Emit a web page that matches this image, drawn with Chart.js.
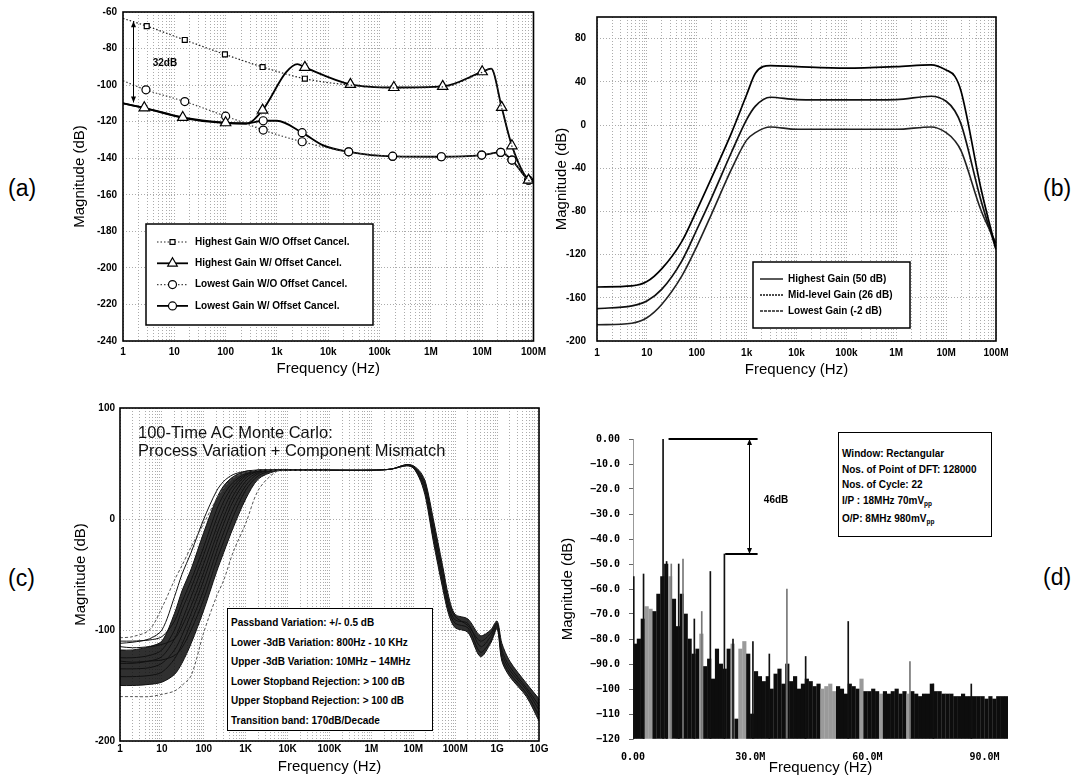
<!DOCTYPE html>
<html>
<head>
<meta charset="utf-8">
<script src="https://cdn.jsdelivr.net/npm/chart.js@4.4.1/dist/chart.umd.min.js"></script>
<style>
body { margin: 0; background: #fff; width: 1079px; height: 779px; position: relative; overflow: hidden;
       font-family: "Liberation Sans", Arial, sans-serif; color: #000; }
canvas { position: absolute; }
.lbl { position: absolute; font-size: 23px; }
.box { position: absolute; box-sizing: border-box; border: 1.5px solid #000; background: #fff;
       font-weight: bold; font-size: 10px; white-space: nowrap; color: #000; }
.box sub { font-size: 6.5px; vertical-align: -2px; color: #000; }
.mc { position: absolute; font-size: 16.5px; line-height: 18px; color: #111; white-space: nowrap; }
</style>
</head>
<body>
<canvas id="ca" width="491" height="385" style="left:60px;top:0px"></canvas>
<canvas id="cb" width="475" height="385" style="left:540px;top:0px"></canvas>
<canvas id="cc" width="495" height="389" style="left:60px;top:390px"></canvas>
<canvas id="cd" width="490" height="379" style="left:540px;top:400px"></canvas>

<div class="lbl" style="left:8px;top:175px">(a)</div>
<div class="lbl" style="left:1043px;top:175px">(b)</div>
<div class="lbl" style="left:8px;top:565px">(c)</div>
<div class="lbl" style="left:1043px;top:564px">(d)</div>

<div class="mc" style="left:138px;top:423px">100-Time AC Monte Carlo:<br>Process Variation + Component Mismatch</div>
<div class="box" style="left:227px;top:608px;width:206px;height:123px;padding:4px 0 0 3px;line-height:19.6px">
Passband Variation: +/- 0.5 dB<br>
Lower -3dB Variation: 800Hz - 10 KHz<br>
Upper -3dB Variation: 10MHz – 14MHz<br>
Lower Stopband Rejection: &gt; 100 dB<br>
Upper Stopband Rejection: &gt; 100 dB<br>
Transition band: 170dB/Decade
</div>
<div class="box" style="left:838px;top:432px;width:154px;height:105px;padding:13px 0 0 3px;line-height:15.6px">
Window: Rectangular<br>
Nos. of Point of DFT: 128000<br>
Nos. of Cycle: 22<br>
I/P : 18MHz 70mV<sub>pp</sub><br>
O/P: 8MHz 980mV<sub>pp</sub>
</div>

<script>
// (a) offset cancellation
var aFreqLabels = ['1', '10', '100', '1k', '10k', '100k', '1M', '10M', '100M'];
var aHiWoF = [1, 2.9, 16, 97, 525, 3500, 27e3, 190e3, 1.7e6, 10e6, 15e6, 24e6, 38e6, 80e6, 1e8];
var aHiWoY = [-63.5, -67.7, -75.3, -83.2, -90.1, -96.5, -100, -101.5, -101, -93, -91, -112.5, -133.5, -152, -153];
var aHiWF = [1, 2.6, 14.6, 100, 250, 525, 1500, 2500, 3500, 27e3, 190e3, 1.7e6, 10e6, 15e6, 24e6, 38e6, 80e6, 1e8];
var aHiWY = [-110, -112.4, -117.7, -120.6, -121, -113.7, -93, -88.5, -90.3, -99.6, -101.3, -100.7, -92.7, -91, -112.2, -133.2, -152, -153];
var aLoWoF = [1, 2.8, 16, 100, 200, 540, 3100, 25e3, 180e3, 1.6e6, 9.8e6, 23e6, 38e6, 80e6, 1e8];
var aLoWoY = [-97.6, -102.6, -109, -117, -120, -124.6, -131, -136.5, -138.9, -139.2, -138.3, -136.8, -141, -152, -153];
var aLoWF = [1, 3, 15, 100, 250, 540, 1000, 3100, 8000, 25e3, 180e3, 1.6e6, 9.8e6, 23e6, 38e6, 80e6, 1e8];
var aLoWY = [-110, -113, -118, -120.8, -121, -119.5, -119.5, -126, -133, -136.5, -139, -139.2, -138.3, -136.8, -141, -152, -153];

// (b) three gain settings
var bFreq = [1, 5, 10, 20, 50, 100, 200, 500, 1000, 1500, 3000, 10e3, 100e3, 1e6, 5e6, 10e6, 15e6, 20e6, 50e6, 1e8];
var bHigh = [-150, -149, -145, -133, -108, -79, -48.5, -7, 28, 48, 55, 54, 52.6, 54, 55.7, 51, 45, 31, -59, -115];
var bMid = [-170, -167.5, -163, -152, -126, -97, -67, -25, 5, 17.5, 25.7, 23.5, 23.2, 23.5, 26.6, 22, 13, 0.6, -70, -115];
var bLow = [-185, -183.5, -178.5, -166, -140, -112.6, -82, -40.7, -14, -7, -1.8, -4, -4, -4, -1.8, -7, -14.7, -24, -79, -109.5];

// (c) monte carlo runs, low side and high side
var cFreqLabels = ['1', '10', '100', '1K', '10K', '100K', '1M', '10M', '100M', '1G', '10G'];
var cLoF = [1, 2, 5, 10, 20, 30, 50, 100, 200, 300, 500, 1000, 2000, 5000, 10000, 100000];
var cLo = [
  [-107, -106, -100, -80, -55, -42, -25, -4, 18, 28, 37, 42, 44, 44, 44, 44],
  [-112, -111, -108, -100, -70, -50, -30, 0, 25, 34, 40, 43, 44, 44, 44, 44],
  [-118, -118, -115, -110, -85, -65, -45, -12, 18, 30, 38, 43, 44, 44, 44, 44],
  [-110, -110, -109, -106, -92, -75, -55, -25, 8, 22, 33, 41, 44, 44, 44, 44],
  [-125, -125, -123, -118, -100, -82, -62, -32, 0, 16, 30, 40, 44, 44, 44, 44],
  [-130, -130, -128, -124, -108, -92, -70, -40, -8, 9, 26, 39, 43, 44, 44, 44],
  [-115, -116, -115, -113, -108, -97, -78, -48, -15, 2, 21, 37, 43, 44, 44, 44],
  [-135, -135, -134, -130, -118, -105, -85, -55, -22, -4, 16, 34, 42, 44, 44, 44],
  [-142, -142, -141, -138, -126, -113, -93, -64, -30, -12, 9, 30, 41, 44, 44, 44],
  [-128, -129, -128, -127, -123, -116, -100, -72, -38, -20, 2, 26, 39, 44, 44, 44],
  [-150, -150, -149, -147, -140, -130, -112, -82, -48, -30, -8, 18, 36, 43, 44, 44],
  [-160, -160, -160, -158, -155, -150, -141, -102, -70, -55, -30, -4, 26, 42, 44, 44]
];
var cHiF = [1e5, 1e6, 3e6, 7e6, 1e7, 1.5e7, 2e7, 3e7, 5e7, 7e7, 1e8, 2e8, 4e8, 7e8, 1e9, 1.3e9, 2e9, 5e9, 1e10];
var cHi = [
  [44, 44, 45, 49, 47, 38, 26, -10, -52, -79, -91, -94, -115, -106, -95, -121, -136, -154, -172],
  [44, 44, 45, 49, 48, 42, 32, 0, -42, -70, -86, -90, -105, -100, -92, -112, -128, -148, -162],
  [44, 44, 45, 48, 46, 34, 18, -20, -62, -86, -98, -102, -124, -112, -99, -128, -142, -160, -182],
  [44, 44, 45, 49, 47, 40, 29, -5, -47, -75, -88, -96, -110, -103, -94, -118, -133, -152, -168],
  [44, 44, 45, 48, 46, 36, 22, -15, -57, -82, -94, -98, -120, -110, -97, -125, -139, -157, -177]
];

// (d) output spectrum, MHz / dB
var dXLabels = ['0.00', '30.0M', '60.0M', '90.0M'];
var dFloorF = [0.5, 1.5, 2.5, 3.5, 4.5, 5.5, 6.5, 7.5, 8.5, 9.5, 10.5, 11.5, 12.5, 13.5, 14.5, 15.5, 16.5, 17.5, 18.5, 19.5,
  20.5, 21.5, 22.5, 23.5, 24.5, 25.5, 26.5, 27.5, 28.5, 29.5, 30.5, 31.5, 32.5, 33.5, 34.5, 35.5, 36.5, 37.5, 38.5, 39.5,
  40.5, 41.5, 42.5, 43.5, 44.5, 45.5, 46.5, 47.5, 48.5, 49.5, 50.5, 51.5, 52.5, 53.5, 54.5, 55.5, 56.5, 57.5, 58.5, 59.5,
  60.5, 61.5, 62.5, 63.5, 64.5, 65.5, 66.5, 67.5, 68.5, 69.5, 70.5, 71.5, 72.5, 73.5, 74.5, 75.5, 76.5, 77.5, 78.5, 79.5,
  80.5, 81.5, 82.5, 83.5, 84.5, 85.5, 86.5, 87.5, 88.5, 89.5, 90.5, 91.5, 92.5, 93.5, 94.5, 95.5];
var dFloorY = [-82, -80, -72, -67, -68, -69, -62, -55, -50, -55, -64, -75, -62, -70, -80, -86, -84, -78, -91, -88,
  -96, -84, -90, -92, -84, -82, -112, -84, -81, -86, -110, -93, -95, -97, -95, -100, -94, -92, -98, -90,
  -97, -95, -100, -98, -96, -97, -99, -98, -100, -99, -98, -101, -99, -100, -102, -98, -99, -100, -96, -101,
  -101, -100, -101, -102, -101, -102, -101, -100, -102, -101, -102, -101, -102, -103, -102, -102, -98, -101, -101, -102,
  -102, -102, -103, -103, -102, -103, -103, -103, -103, -103, -104, -103, -104, -103, -103, -103];
var dSpikeF = [0.2, 2.7, 7.7, 8.6, 9.8, 11.7, 12.8, 15.7, 17.6, 19.8, 23.4, 25.6, 30.7, 34.9, 39.4, 44.2, 55.1, 70.9, 76.9, 86.6];
var dSpikeY = [-55, -54, 0, -49, -50, -50, -48, -72, -69, -53, -46, -80, -81, -86, -60, -87, -73, -89, -98, -98];

var tickFont = { size: 10, weight: 'bold' };
var titleFont = { size: 15 };
var monoFont = { family: '"DejaVu Sans Mono", monospace', size: 10, weight: 'bold' };

function pts(F, Y) {
  return F.map(function (f, i) { return { x: f, y: Y[i] }; });
}

function decadeTicks(maxExp) {
  var t = [];
  for (var e = 0; e < maxExp; e++)
    for (var m = 1; m < 10; m++) t.push({ value: m * Math.pow(10, e) });
  t.push({ value: Math.pow(10, maxExp) });
  return t;
}

function logX(maxExp, labels, h, tickPad, titlePad) {
  return {
    type: 'logarithmic', min: 1, max: Math.pow(10, maxExp),
    afterBuildTicks: function (s) { s.ticks = decadeTicks(maxExp); },
    afterFit: function (s) { s.height = h; },
    ticks: {
      autoSkip: false, maxRotation: 0, padding: tickPad, color: '#000', font: tickFont,
      callback: function (v) {
        var e = Math.round(Math.log10(v));
        return Math.abs(v - Math.pow(10, e)) < v * 1e-9 ? labels[e] : '';
      }
    },
    grid: { color: '#ababab', drawTicks: false },
    border: { display: false, dash: [1, 2] },
    title: { display: true, text: 'Frequency (Hz)', color: '#000', font: titleFont, padding: { top: 0, bottom: titlePad } }
  };
}

function magY(min, max, step, w, tickPad, titlePad) {
  return {
    min: min, max: max,
    afterFit: function (s) { s.width = w; },
    ticks: { stepSize: step, includeBounds: false, autoSkip: false, padding: tickPad, color: '#000', font: tickFont },
    grid: { color: '#ababab', drawTicks: false },
    border: { display: false, dash: [1, 2] },
    title: { display: true, text: 'Magnitude (dB)', color: '#000', font: titleFont, padding: { top: titlePad, bottom: 0 } }
  };
}

function vArrow(ctx, x, y1, y2) {
  ctx.beginPath(); ctx.moveTo(x, y1); ctx.lineTo(x, y2); ctx.stroke();
  [[y1, 1], [y2, -1]].forEach(function (p) {
    ctx.beginPath();
    ctx.moveTo(x, p[0]);
    ctx.lineTo(x - 2.5, p[0] + 6 * p[1]);
    ctx.lineTo(x + 2.5, p[0] + 6 * p[1]);
    ctx.closePath(); ctx.fill();
  });
}

var framePlugin = {
  id: 'frame',
  afterDraw: function (chart, args, o) {
    if (!o.show) return;
    var a = chart.chartArea, ctx = chart.ctx;
    ctx.save();
    ctx.strokeStyle = '#000'; ctx.lineWidth = 1.6;
    ctx.strokeRect(a.left, a.top, a.right - a.left, a.bottom - a.top);
    ctx.restore();
  }
};

// legend box drawn inside the plot, samples taken from the dataset styles
var boxLegend = {
  id: 'boxLegend',
  afterDraw: function (chart, args, o) {
    if (!o.rows) return;
    var ctx = chart.ctx, a = chart.chartArea;
    var x = a.left + o.x, y = a.top + o.y;
    ctx.save();
    ctx.fillStyle = '#fff'; ctx.fillRect(x, y, o.w, o.h);
    ctx.lineWidth = 1.5; ctx.strokeStyle = '#000'; ctx.strokeRect(x, y, o.w, o.h);
    ctx.font = 'bold 10px "Liberation Sans", Arial, sans-serif';
    ctx.textBaseline = 'middle';
    o.rows.forEach(function (di, k) {
      var ds = chart.data.datasets[di];
      var ry = y + o.first + k * o.step;
      ctx.save();
      ctx.strokeStyle = ds.borderColor; ctx.lineWidth = ds.legendWidth || ds.borderWidth;
      ctx.setLineDash(ds.legendDash || ds.borderDash || []);
      ctx.beginPath(); ctx.moveTo(x + o.l0, ry); ctx.lineTo(x + o.l1, ry); ctx.stroke();
      ctx.restore();
      if (ds.legendRadius && Chart.helpers && Chart.helpers.drawPoint) {
        ctx.save();
        ctx.fillStyle = '#fff'; ctx.strokeStyle = '#000'; ctx.lineWidth = 1.2; ctx.setLineDash([]);
        Chart.helpers.drawPoint(ctx, { pointStyle: ds.pointStyle, radius: ds.legendRadius, borderWidth: 1.2, rotation: 0 },
          x + (o.l0 + o.l1) / 2, ry);
        ctx.restore();
      }
      ctx.fillStyle = '#000';
      ctx.fillText(ds.label, x + o.tx, ry);
    });
    ctx.restore();
  }
};

Chart.register(framePlugin, boxLegend);
Chart.defaults.font.family = '"Liberation Sans", Arial, sans-serif';
Chart.defaults.color = '#000';
Chart.defaults.animation = false;
Chart.defaults.events = [];
Chart.defaults.plugins.legend.display = false;
Chart.defaults.plugins.tooltip.enabled = false;
Chart.defaults.plugins.colors = { enabled: false };

function markR(r) {
  return function (c) { return c.raw && c.dataset.noMark.indexOf(c.raw.x) >= 0 ? 0 : r; };
}

// ---------- (a)
new Chart(document.getElementById('ca'), {
  type: 'line',
  data: {
    datasets: [
      { label: 'Highest Gain W/O Offset Cancel.', data: pts(aHiWoF, aHiWoY), borderColor: '#222', borderWidth: 1.2,
        borderDash: [1.5, 2], pointStyle: 'rect', legendRadius: 3.5,
        pointRadius: function (c) { return c.raw && (c.raw.x > 5000 || c.raw.x === 1) ? 0 : 3.5; } },
      { label: 'Highest Gain W/ Offset Cancel.', data: pts(aHiWF, aHiWY), borderColor: '#000', borderWidth: 1.8,
        pointStyle: 'triangle', legendRadius: 5.5, noMark: [1, 250, 1500, 2500, 15e6, 1e8], pointRadius: markR(6) },
      { label: 'Lowest Gain W/O Offset Cancel.', data: pts(aLoWoF, aLoWoY), borderColor: '#444', borderWidth: 1.2,
        borderDash: [1.5, 2], pointStyle: 'circle', legendRadius: 4, noMark: [1, 200, 1e8], pointRadius: markR(4) },
      { label: 'Lowest Gain W/ Offset Cancel.', data: pts(aLoWF, aLoWY), borderColor: '#000', borderWidth: 1.8,
        pointStyle: 'circle', legendRadius: 4, noMark: [1, 3, 15, 100, 250, 1000, 8000, 1e8], pointRadius: markR(4) }
    ]
  },
  options: {
    responsive: false,
    layout: { padding: { top: 12, right: 16, left: 0, bottom: 0 } },
    elements: {
      line: { cubicInterpolationMode: 'monotone' },
      point: { backgroundColor: '#fff', borderColor: '#000', borderWidth: 1.2 }
    },
    datasets: { line: { pointBackgroundColor: '#fff', pointBorderColor: '#000', pointBorderWidth: 1.2 } },
    scales: { x: logX(8, aFreqLabels, 44, 5, 7), y: magY(-240, -60, 20, 63, 6, 11) },
    plugins: {
      frame: { show: true },
      boxLegend: { rows: [0, 1, 2, 3], x: 23, y: 212, w: 227, h: 101, first: 18, step: 21.3, l0: 11, l1: 42, tx: 49 }
    }
  },
  plugins: [{
    id: 'aNotes',
    afterDatasetsDraw: function (chart) {
      var x = chart.scales.x, y = chart.scales.y, ctx = chart.ctx;
      ctx.save();
      ctx.strokeStyle = '#000'; ctx.fillStyle = '#000'; ctx.lineWidth = 1;
      vArrow(ctx, Math.round(x.getPixelForValue(1.56)) + 0.5, y.getPixelForValue(-65), y.getPixelForValue(-109.5));
      ctx.font = 'bold 10px "Liberation Sans", Arial, sans-serif';
      ctx.textBaseline = 'middle';
      ctx.fillText('32dB', x.getPixelForValue(3.8), y.getPixelForValue(-88));
      ctx.restore();
    }
  }]
});

// ---------- (b)
new Chart(document.getElementById('cb'), {
  type: 'line',
  data: {
    datasets: [
      { label: 'Highest Gain (50 dB)', data: pts(bFreq, bHigh), borderColor: '#000', borderWidth: 1.7, legendWidth: 1.3 },
      { label: 'Mid-level Gain (26 dB)', data: pts(bFreq, bMid), borderColor: '#111', borderWidth: 1.7,
        legendWidth: 1.3, legendDash: [2, 1] },
      { label: 'Lowest Gain (-2 dB)', data: pts(bFreq, bLow), borderColor: '#222', borderWidth: 1.6,
        legendWidth: 1.3, legendDash: [3, 1] }
    ]
  },
  options: {
    responsive: false,
    layout: { padding: { top: 11, right: 19, left: 0, bottom: 0 } },
    elements: { line: { cubicInterpolationMode: 'monotone' }, point: { radius: 0 } },
    scales: { x: logX(8, aFreqLabels, 44, 6, 6), y: magY(-200, 100, 40, 57, 11, 13) },
    plugins: {
      frame: { show: true },
      boxLegend: { rows: [0, 1, 2], x: 156, y: 245, w: 157, h: 66, first: 17, step: 16, l0: 7, l1: 30, tx: 35 }
    }
  }
});

// ---------- (c)
var cSets = [];
cLo.forEach(function (Y, i) {
  cSets.push({ data: pts(cLoF, Y), borderColor: (i === 0 || i === 11) ? '#555' : '#111', borderWidth: 1,
    borderDash: (i === 0 || i === 11) ? [3, 2] : [] });
});
cHi.forEach(function (Y) {
  cSets.push({ data: pts(cHiF, Y), borderColor: '#111', borderWidth: 1 });
});
cSets[2].fill = 10;
cSets[2].backgroundColor = 'rgba(12,12,12,0.85)';
cSets[13].fill = 14;
cSets[13].backgroundColor = 'rgba(12,12,12,0.85)';

new Chart(document.getElementById('cc'), {
  type: 'line',
  data: { datasets: cSets },
  options: {
    responsive: false,
    layout: { padding: { top: 18, right: 16, left: 0, bottom: 0 } },
    elements: { line: { tension: 0.3 }, point: { radius: 0 } },
    scales: { x: logX(10, cFreqLabels, 38, 2, 3), y: magY(-200, 100, 100, 60, 5, 12) },
    plugins: { frame: { show: true }, filler: { drawTime: 'beforeDatasetsDraw' } }
  }
});

// ---------- (d)
var dGrey = [[3, 5.2], [9, 10], [17, 18], [25, 26], [27.3, 28.8], [48, 52], [58, 59], [63, 64], [70, 71.5]];
new Chart(document.getElementById('cd'), {
  type: 'bar',
  data: {
    datasets: [
      { data: pts(dSpikeF, dSpikeY), barThickness: 1, grouped: false, base: -120,
        backgroundColor: function (c) {
          var v = c.raw ? c.raw.x : 0;
          return (v === 9.8 || v === 12.8 || v === 17.6 || v === 39.4 || v === 70.9) ? '#777' : '#111';
        } },
      { data: pts(dFloorF, dFloorY), barThickness: 3.5, grouped: false, base: -120,
        backgroundColor: function (c) {
          var v = c.raw ? c.raw.x : 0;
          for (var i = 0; i < dGrey.length; i++) if (v > dGrey[i][0] && v < dGrey[i][1]) return '#9a9a9a';
          return '#0d0d0d';
        } }
    ]
  },
  options: {
    responsive: false,
    layout: { padding: { top: 39, right: 22, left: 0, bottom: 0 } },
    scales: {
      x: {
        type: 'linear', min: 0, max: 96, offset: false,
        afterFit: function (s) { s.height = 40; },
        ticks: { stepSize: 30, includeBounds: false, padding: 4, color: '#000', maxRotation: 0, font: monoFont,
          callback: function (v) { return dXLabels[Math.round(v / 30)] || ''; } },
        grid: { display: false },
        border: { display: false },
        title: { display: true, text: 'Frequency (Hz)', color: '#000', font: titleFont, padding: { top: 0, bottom: 2 } }
      },
      y: {
        min: -120, max: 0,
        afterFit: function (s) { s.width = 93; },
        ticks: { stepSize: 10, autoSkip: false, padding: 9, color: '#000', font: monoFont,
          callback: function (v) { return v === 0 ? '0.00' : (v > -100 ? '\u2212' + (-v).toFixed(1) : '\u2212' + (-v)); } },
        grid: { display: true, drawOnChartArea: false, drawTicks: true, tickLength: 4, color: '#666' },
        border: { display: true, color: '#999', width: 1 },
        title: { display: true, text: 'Magnitude (dB)', color: '#000', font: titleFont, padding: { top: 19, bottom: 0 } }
      }
    },
    plugins: { frame: { show: false } }
  },
  plugins: [{
    id: 'dNotes',
    afterDatasetsDraw: function (chart) {
      var x = chart.scales.x, y = chart.scales.y, ctx = chart.ctx;
      var y0 = y.getPixelForValue(0), y46 = y.getPixelForValue(-46);
      ctx.save();
      ctx.strokeStyle = '#000'; ctx.fillStyle = '#000';
      ctx.lineWidth = 1.8;
      ctx.beginPath();
      ctx.moveTo(x.getPixelForValue(9.1), y0); ctx.lineTo(x.getPixelForValue(31.9), y0);
      ctx.moveTo(x.getPixelForValue(23.6), y46); ctx.lineTo(x.getPixelForValue(31.9), y46);
      ctx.stroke();
      ctx.lineWidth = 1;
      vArrow(ctx, Math.round(x.getPixelForValue(29.6)) + 0.5, y0, y46);
      ctx.font = 'bold 10px "Liberation Sans", Arial, sans-serif';
      ctx.textBaseline = 'middle';
      ctx.fillText('46dB', x.getPixelForValue(33.5), y.getPixelForValue(-24.5));
      ctx.restore();
    }
  }]
});
</script>
</body>
</html>
